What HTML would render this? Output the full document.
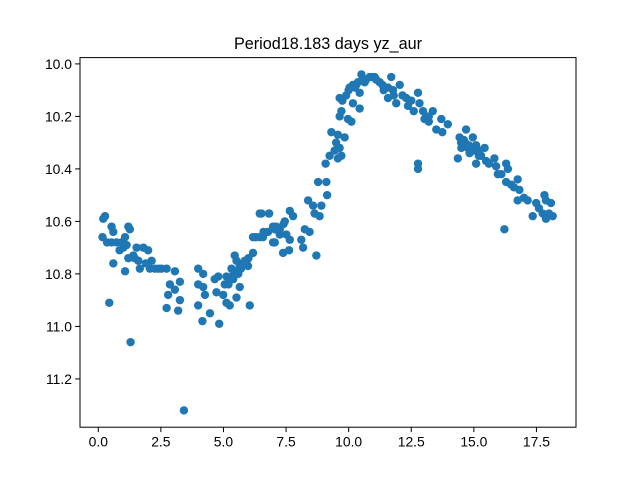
<!DOCTYPE html>
<html><head><meta charset="utf-8"><style>
html,body{margin:0;padding:0;background:#fff;}
svg{display:block;font-family:"Liberation Sans","DejaVu Sans",sans-serif;}
</style></head><body>
<svg id="chart" width="640" height="480" viewBox="0 0 640 480" xmlns="http://www.w3.org/2000/svg">
<rect width="640" height="480" fill="#fff"/>
<text x="328" y="49" font-size="16.2" text-anchor="middle" fill="#000">Period18.183 days yz_aur</text>
<g id="points"></g>
<g id="xticks"></g>
<g id="yticks"></g>
<rect x="80" y="57.6" width="496" height="369.6" fill="none" stroke="#000" stroke-width="1"/>
</svg>
<script>
const phases = [0.27,0.20,0.53,0.60,0.17,1.20,1.26,0.53,0.73,0.93,1.07,1.00,1.13,1.53,1.80,1.99,1.20,1.40,1.60,1.66,2.13,2.06,2.26,2.53,2.73,3.06,0.60,1.07,0.44,1.29,3.42,2.86,3.06,3.26,2.79,3.26,2.73,3.19,3.99,4.19,3.99,4.19,4.26,3.99,4.46,4.16,4.83,4.65,4.79,4.72,4.99,5.12,5.25,5.52,5.65,6.05,5.12,5.32,5.45,5.52,5.65,5.79,5.92,5.98,6.18,5.39,5.59,6.18,6.45,6.45,6.82,6.78,7.05,6.98,7.25,
6.52,6.82,6.58,6.98,7.25,7.45,7.65,7.78,7.51,7.65,7.05,7.38,7.62,8.11,8.18,8.25,8.44,8.71,8.38,8.58,8.64,8.84,8.91,8.78,9.11,9.14,9.08,9.24,9.44,9.64,9.71,9.57,9.31,9.57,9.84,9.64,9.71,9.64,9.97,10.11,10.04,10.17,10.37,10.44,10.44,10.17,10.51,10.64,10.84,11.04,11.24,11.70,11.57,11.77,11.57,11.90,12.04,12.30,12.37,12.77,12.83,12.97,13.03,13.36,13.50,13.70,13.74,13.96,12.77,12.77,14.36,14.43,14.69,14.49,14.76,14.96,14.83,15.09,15.09,15.29,15.43,15.49,15.82,15.89,15.96,16.29,16.36,16.29,16.49,16.75,16.82,16.75,16.22,17.15,17.49,17.82,17.88,18.08,17.35,17.75,17.88,18.15,
5.05,5.3,5.6,5.8,6.0,10.0,10.3,10.7,11.1,11.4,12.6,13.2,14.6,15.2,
0.35,0.85,1.45,1.9,2.4,5.2,5.4,5.5,5.7,5.85,6.3,6.6,7.1,7.4,9.5,9.75,9.9,10.25,10.55,10.95,11.35,11.8,12.15,12.5,13.2,14.5,14.65,14.8,15.0,15.2,15.6,16.1,16.6,17.0,17.6,18.0];
const mags = [10.58,10.59,10.62,10.64,10.66,10.62,10.63,10.68,10.68,10.68,10.66,10.70,10.69,10.70,10.70,10.71,10.74,10.73,10.75,10.78,10.75,10.78,10.78,10.78,10.78,10.79,10.76,10.79,10.91,11.06,11.32,10.84,10.86,10.83,10.88,10.90,10.93,10.94,10.78,10.80,10.84,10.85,10.88,10.92,10.95,10.98,10.99,10.82,10.81,10.87,10.88,10.91,10.92,10.89,10.85,10.92,10.81,10.78,10.73,10.75,10.77,10.76,10.75,10.77,10.72,10.82,10.80,10.66,10.66,10.57,10.57,10.64,10.63,10.68,10.65,
10.57,10.57,10.66,10.62,10.63,10.60,10.56,10.58,10.65,10.67,10.68,10.72,10.71,10.67,10.70,10.63,10.64,10.73,10.52,10.54,10.57,10.58,10.54,10.45,10.45,10.50,10.38,10.35,10.33,10.32,10.35,10.36,10.26,10.27,10.28,10.20,10.18,10.13,10.21,10.22,10.09,10.08,10.07,10.11,10.17,10.15,10.04,10.07,10.05,10.05,10.07,10.05,10.09,10.10,10.13,10.15,10.08,10.13,10.16,10.11,10.15,10.18,10.21,10.18,10.25,10.21,10.26,10.23,10.38,10.40,10.36,10.28,10.25,10.30,10.32,10.28,10.34,10.31,10.38,10.35,10.32,10.37,10.36,10.39,10.42,10.38,10.40,10.45,10.46,10.44,10.48,10.52,10.63,10.52,10.53,10.50,10.52,10.53,10.58,10.57,10.59,10.58,
10.84,10.82,10.79,10.76,10.74,10.10,10.08,10.06,10.06,10.10,10.18,10.22,10.29,10.33,
10.68,10.71,10.74,10.76,10.78,10.84,10.80,10.79,10.78,10.75,10.66,10.64,10.62,10.61,10.30,10.14,10.12,10.09,10.06,10.05,10.08,10.12,10.12,10.14,10.20,10.32,10.30,10.31,10.33,10.35,10.38,10.42,10.47,10.51,10.55,10.57];
const xTickValues = [0, 2.5, 5, 7.5, 10, 12.5, 15, 17.5];
const xTickLabels = ["0.0","2.5","5.0","7.5","10.0","12.5","15.0","17.5"];
const yTickValues = [10.0, 10.2, 10.4, 10.6, 10.8, 11.0, 11.2];
const yTickLabels = ["10.0","10.2","10.4","10.6","10.8","11.0","11.2"];

const L=80,R=576,T=57.6,B=427.2;
const xMin=-0.73,xMax=19.08,yMin=9.976,yMax=11.384;
function xs(v){return L+(v-xMin)/(xMax-xMin)*(R-L);}
function ys(v){return T+(v-yMin)/(yMax-yMin)*(B-T);}
const NS="http://www.w3.org/2000/svg";
const gp=document.getElementById('points');
for(let i=0;i<phases.length;i++){
  const c=document.createElementNS(NS,'circle');
  c.setAttribute('cx',xs(phases[i]).toFixed(2));
  c.setAttribute('cy',ys(mags[i]).toFixed(2));
  c.setAttribute('r','4.2');
  c.setAttribute('fill','#1f77b4');
  
  
  gp.appendChild(c);
}
const gx=document.getElementById('xticks');
xTickValues.forEach((v,i)=>{
  const x=xs(v);
  const l=document.createElementNS(NS,'line');
  l.setAttribute('x1',x);l.setAttribute('x2',x);l.setAttribute('y1',B);l.setAttribute('y2',B+4.9);
  l.setAttribute('stroke','#000');
  
  
  gx.appendChild(l);
  const t=document.createElementNS(NS,'text');
  t.setAttribute('x',x);t.setAttribute('y',B+19.5);
  t.setAttribute('font-size','13.9');t.setAttribute('text-anchor','middle');
  t.textContent=xTickLabels[i];
  
  
  gx.appendChild(t);
});
const gy=document.getElementById('yticks');
yTickValues.forEach((v,i)=>{
  const y=ys(v);
  const l=document.createElementNS(NS,'line');
  l.setAttribute('x1',L-4.9);l.setAttribute('x2',L);l.setAttribute('y1',y);l.setAttribute('y2',y);
  l.setAttribute('stroke','#000');
  
  
  gy.appendChild(l);
  const t=document.createElementNS(NS,'text');
  t.setAttribute('x',L-8);t.setAttribute('y',y+5);
  t.setAttribute('font-size','13.9');t.setAttribute('text-anchor','end');
  t.textContent=yTickLabels[i];
  
  
  gy.appendChild(t);
});
</script>
</body></html>
